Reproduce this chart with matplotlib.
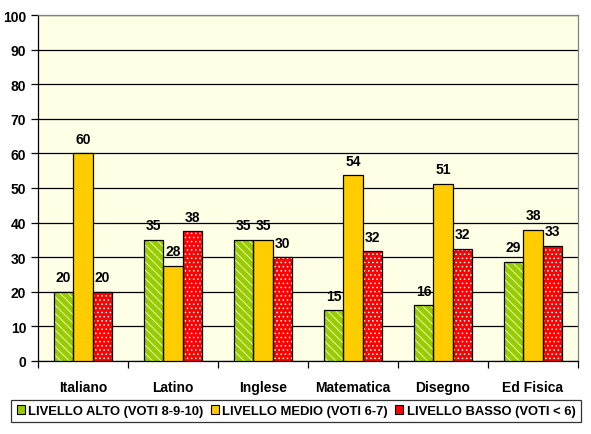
import numpy as np
import matplotlib.pyplot as plt

plt.rcParams['font.family'] = ['Liberation Sans', 'DejaVu Sans']
plt.rcParams['hatch.linewidth'] = 0.6

# Data
materie = ["Italiano", "Latino", "Inglese", "Matematica", "Disegno", "Ed Fisica"]
alto = [20, 35, 35, 14.6, 16.1, 28.6]
medio = [60, 27.5, 35, 53.7, 51.2, 38]
basso = [20, 37.5, 30, 31.7, 32.5, 33.3]
serie_nomi = ["LIVELLO ALTO (VOTI 8-9-10)", "LIVELLO MEDIO (VOTI 6-7)", "LIVELLO BASSO (VOTI < 6)"]

colori = ['#99CC00', '#FFCC00', '#FF0000']
tratteggi = ['\\\\\\\\', None, '....']

fig = plt.figure(figsize=(5.91, 4.35), dpi=100)
ax = fig.add_axes([38/591, 73/435, 540/591, 346/435])
ax.set_facecolor('#FFFFE6')

x = np.arange(len(materie))
w = 0.217
handles = []
for i, (vals, col, h) in enumerate(zip([alto, medio, basso], colori, tratteggi)):
    pos = x + (i - 1) * w
    if h:
        ax.bar(pos, vals, w, color=col, hatch=h, edgecolor='#F4FFD0' if i == 0 else 'white',
               linewidth=0, zorder=3)
    else:
        ax.bar(pos, vals, w, color=col, linewidth=0, zorder=3)
    ax.bar(pos, vals, w, facecolor='none', edgecolor='black', linewidth=0.9, zorder=4)
    handles.append(plt.Rectangle((0, 0), 1, 1, facecolor=col, edgecolor='black', linewidth=0.8))
    for xi, v in zip(pos, vals):
        ax.text(xi, v + 2.2, f"{v:.0f}", ha='center', va='bottom', fontsize=10,
                fontweight='bold', zorder=5)

ax.set_xlim(-0.5, len(materie) - 0.5)
ax.set_ylim(0, 100)
ax.set_yticks(range(0, 101, 10))
ax.yaxis.grid(True, color='black', linewidth=0.9, zorder=1)
ax.set_axisbelow(True)

ax.set_xticks(x)
ax.set_xticklabels(materie, fontsize=10, fontweight='bold')
ax.set_xticks(np.arange(-0.5, len(materie)), minor=True)
ax.tick_params(axis='x', which='major', length=0, pad=14)
ax.tick_params(axis='x', which='minor', length=5, width=0.9, direction='out')
ax.tick_params(axis='y', length=5, width=0.9, direction='out', labelsize=10)
for lab in ax.get_yticklabels():
    lab.set_fontweight('bold')

for s in ['top', 'right']:
    ax.spines[s].set_color('#808080')
for s in ['left', 'bottom']:
    ax.spines[s].set_color('black')
for s in ax.spines.values():
    s.set_linewidth(0.9)

leg = fig.legend(handles, serie_nomi, loc='center', bbox_to_anchor=(296/591, 1 - 412/435), ncol=3,
                 frameon=True, fancybox=False, edgecolor='black',
                 handlelength=0.6, handleheight=0.6, handletextpad=0.25, columnspacing=0.6,
                 borderpad=0.4, borderaxespad=0, prop={'weight': 'bold', 'size': 9.4})
leg.get_frame().set_linewidth(0.9)

fig.savefig("out.png", dpi=100)
